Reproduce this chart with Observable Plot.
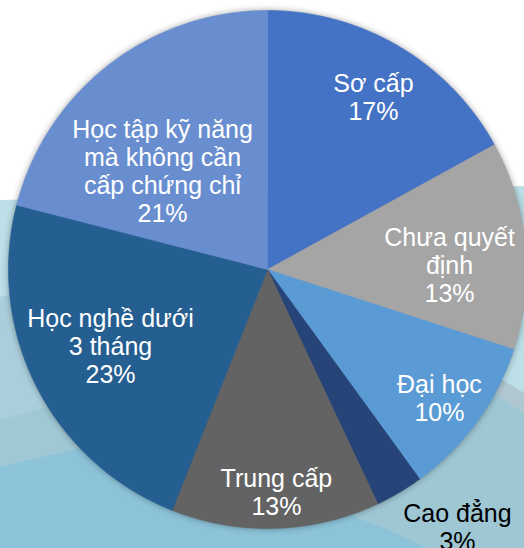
<!DOCTYPE html>
<html><head><meta charset="utf-8">
<script src="https://cdn.jsdelivr.net/npm/d3@7"></script>
<script src="https://cdn.jsdelivr.net/npm/@observablehq/plot@0.6"></script>
<style>
html,body{margin:0;padding:0;background:#fff;}
#wrap{position:relative;width:524px;height:548px;overflow:hidden;}
#bg{position:absolute;left:0;top:0;}
#chart{position:absolute;left:0;top:0;}
#chart g[aria-label="line"]{filter:drop-shadow(0 0 3px rgba(0,0,0,0.35));}
</style></head>
<body>
<div id="wrap">
<svg id="bg" width="524" height="548" xmlns="http://www.w3.org/2000/svg">
  <rect width="524" height="548" fill="#ffffff"/>
  <path d="M0,200 L524,186 L524,548 L0,548Z" fill="#bddfe8"/>
  <path d="M0,297 L140,262 L140,548 L0,548Z" fill="#aacfdb"/>
  <path d="M0,420 L160,375 L160,548 L0,548Z" fill="#a0c7d4"/>
  <path d="M420,330 L524,393 L524,548 L420,548Z" fill="#b0c7d1"/>
  <path d="M420,345 L524,413 L524,548 L150,548 L150,400Z" fill="#9ec6d3"/>
  <path d="M0,467 L200,420 L357,518 Q395,532 427,548 L0,548Z" fill="#8cc3d8"/>
</svg>
<div id="chart"></div>
</div>
<script>
// ---- data ----
const categories = ["Sơ cấp", "Chưa quyết định", "Đại học", "Cao đẳng", "Trung cấp", "Học nghề dưới 3 tháng", "Học tập kỹ năng mà không cần cấp chứng chỉ"];
const labels = ["Sơ cấp", "Chưa quyết\nđịnh", "Đại học", "Cao đẳng", "Trung cấp", "Học nghề dưới\n3 tháng", "Học tập kỹ năng\nmà không cần\ncấp chứng chỉ"];
const values = [17, 13, 10, 3, 13, 23, 21];
const colors = ["#4472C4", "#A5A5A5", "#5B9BD5", "#264478", "#636363", "#255E91", "#698ED0"];

// ---- layout (pixels) ----
const W = 524, H = 548, CX = 267, CY = 269, R = 259;
// label placement: [angle offset from slice middle (deg), radius fraction]
const labelPlace = [[0.9, 0.783], [4.1, 0.703], [0.7, 0.828], [-5.8, 1.236], [-0.5, 0.858], [0.9, 0.675], [-8.9, 0.557]];

const total = d3.sum(values);
const rad = Math.PI / 180;
const slicePts = [];
const labelRows = [];
let acc = 0;
values.forEach((v, i) => {
  const a0 = acc / total * 360, a1 = (acc + v) / total * 360;
  acc += v;
  const cat = categories[i];
  slicePts.push({cat, x: 0, y: 0});
  const n = Math.max(2, Math.ceil((a1 - a0) / 0.5));
  for (let k = 0; k <= n; k++) {
    const t = (a0 + (a1 - a0) * k / n) * rad;
    slicePts.push({cat, x: Math.sin(t), y: Math.cos(t)});
  }
  slicePts.push({cat, x: 0, y: 0});
  const [da, rf] = labelPlace[i];
  const m = ((a0 + a1) / 2 + da) * rad;
  labelRows.push({cat, x: rf * Math.sin(m), y: rf * Math.cos(m), text: `${labels[i]}\n${v}%`, outside: rf > 1});
});

const textOpts = {x: "x", y: "y", text: "text", fontSize: 25, lineHeight: 1.12, lineAnchor: "middle", textAnchor: "middle", fontFamily: "Liberation Sans, Arial, sans-serif"};

const chart = Plot.plot({
  width: W, height: H, margin: 0,
  x: {domain: [-CX / R, (W - CX) / R], axis: null},
  y: {domain: [-(H - CY) / R, CY / R], axis: null},
  color: {domain: categories, range: colors},
  style: {background: "transparent", overflow: "visible"},
  marks: [
    Plot.line(slicePts, {x: "x", y: "y", z: "cat", fill: "cat", stroke: "cat", strokeWidth: 0.6, curve: "linear"}),
    Plot.text(labelRows.filter(d => !d.outside), {...textOpts, fill: "white"}),
    Plot.text(labelRows.filter(d => d.outside), {...textOpts, fill: "black"})
  ]
});
document.getElementById("chart").appendChild(chart);
</script>
</body></html>
